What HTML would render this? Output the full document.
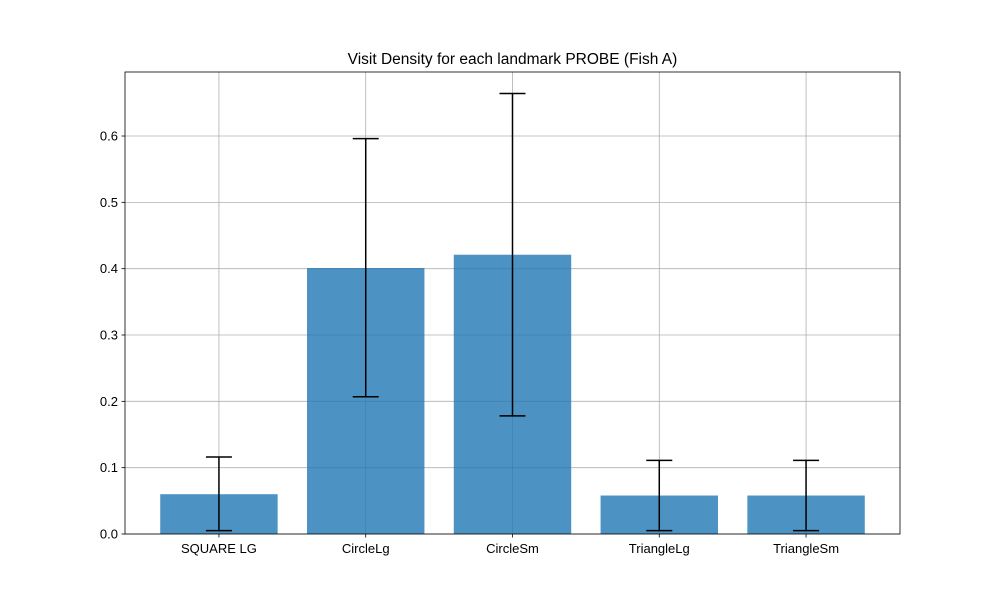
<!DOCTYPE html>
<html><head><meta charset="utf-8"><style>
html,body{margin:0;padding:0;background:#fff;}
svg{display:block;font-family:"Liberation Sans","DejaVu Sans",sans-serif;}
</style></head><body>
<svg id="chart" width="1000" height="600" viewBox="0 0 1000 600" xmlns="http://www.w3.org/2000/svg">
<rect width="1000" height="600" fill="#fff"/>
<text x="512.5" y="64" text-anchor="middle" font-size="15.5" fill="#000">Visit Density for each landmark PROBE (Fish A)</text>
<g id="grid"></g><g id="bars"></g><g id="errs"></g><g id="axes"></g>
</svg>
<script>
const categories = ["SQUARE LG","CircleLg","CircleSm","TriangleLg","TriangleSm"];
const values = [0.060, 0.401, 0.421, 0.058, 0.058];
const errLow = [0.005, 0.207, 0.178, 0.005, 0.005];
const errHigh = [0.116, 0.596, 0.664, 0.111, 0.111];
const yTicks = [0.0,0.1,0.2,0.3,0.4,0.5,0.6];
const yTickLabels = ["0.0","0.1","0.2","0.3","0.4","0.5","0.6"];

const L=125,R=900,T=72,B=534;
const xMin=-0.64,xMax=4.64,yMin=0,yMax=0.6965;
const xs=v=>L+(v-xMin)/(xMax-xMin)*(R-L);
const ys=v=>B-(v-yMin)/(yMax-yMin)*(B-T);
const NS="http://www.w3.org/2000/svg";
function mk(tag,attrs,parent){const e=document.createElementNS(NS,tag);for(const k in attrs)e.setAttribute(k,attrs[k]);parent.appendChild(e);return e;}
const grid=document.getElementById('grid'),bars=document.getElementById('bars'),errs=document.getElementById('errs'),axes=document.getElementById('axes');

yTicks.forEach((t,i)=>{
  const y=ys(t);
  const g=mk('line',{x1:L,x2:R,y1:y,y2:y,stroke:'#b0b0b0','stroke-width':0.8},grid);
  
  
  mk('line',{x1:L-3.5,x2:L,y1:y,y2:y,stroke:'#000','stroke-width':0.8},axes);
  const tx=mk('text',{x:L-7,y:y+4.5,'text-anchor':'end','font-size':13,fill:'#000'},axes);
  tx.textContent=yTickLabels[i];
  
  
});
categories.forEach((c,i)=>{
  const x=xs(i);
  const g=mk('line',{x1:x,x2:x,y1:T,y2:B,stroke:'#b0b0b0','stroke-width':0.8},grid);
  
  
  const w=xs(0.4)-xs(-0.4);
  const b=mk('rect',{x:xs(i-0.4),y:ys(values[i]),width:w,height:ys(0)-ys(values[i]),fill:'#1f77b4','fill-opacity':0.8},bars);
  
  
  const e=mk('g',{stroke:'#000','stroke-width':1.5},errs);
  
  
  mk('line',{x1:x,x2:x,y1:ys(errLow[i]),y2:ys(errHigh[i])},e);
  mk('line',{x1:x-13,x2:x+13,y1:ys(errLow[i]),y2:ys(errLow[i])},e);
  mk('line',{x1:x-13,x2:x+13,y1:ys(errHigh[i]),y2:ys(errHigh[i])},e);
  mk('line',{x1:x,x2:x,y1:B,y2:B+3.5,stroke:'#000','stroke-width':0.8},axes);
  const tx=mk('text',{x:x,y:B+19,'text-anchor':'middle','font-size':13,fill:'#000'},axes);
  tx.textContent=c;
  
  
});
const fr=mk('rect',{x:L,y:T,width:R-L,height:B-T,fill:'none',stroke:'#000','stroke-width':0.8},axes);


</script>
</body></html>
